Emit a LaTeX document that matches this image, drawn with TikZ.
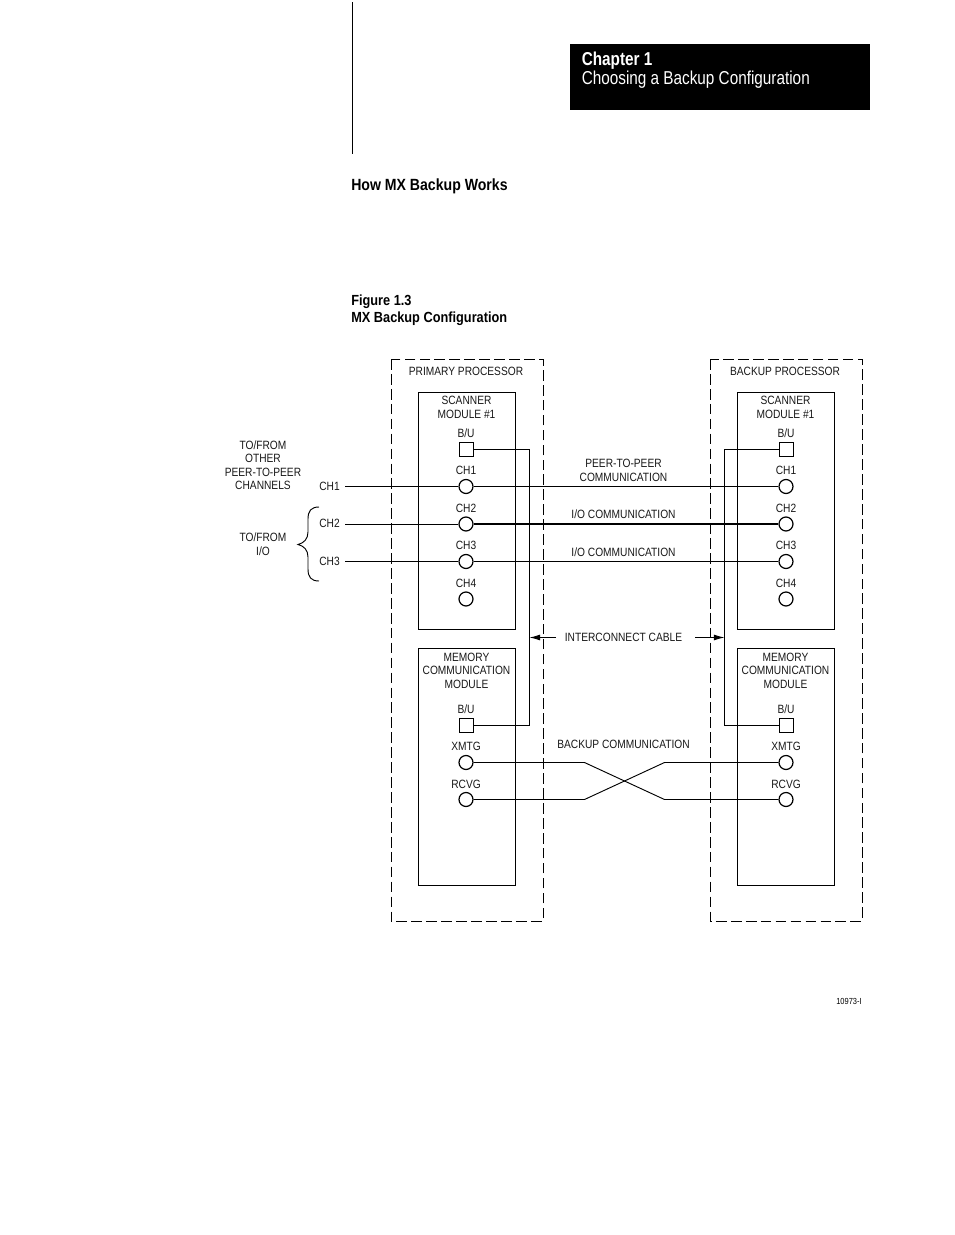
\documentclass[tikz,border=0pt]{standalone}
\usepackage{fontspec}
\setmainfont{Liberation Sans}
\newfontfamily\cond[FakeStretch=0.85]{Liberation Sans}
\newfontfamily\condt[FakeStretch=0.82]{Liberation Sans}
\newfontfamily\condh[FakeStretch=0.87]{Liberation Sans}
\usetikzlibrary{arrows.meta}
\tikzset{
  lbl/.style={inner sep=0pt,align=center,font=\cond\fontsize{9}{10.1}\selectfont,text=black!90},
  head/.style={inner sep=0pt,anchor=base west,font=\condh\bfseries\fontsize{11.2}{12.6}\selectfont},
  port/.style={circle,draw,fill=white,line width=.9pt,minimum size=10.5pt,inner sep=0pt},
  sq/.style={rectangle,draw,fill=white,line width=.7pt,minimum size=10.5pt,inner sep=0pt},
  module/.style={draw,line width=.7pt},
  proc/.style={draw,line width=.6pt,dash pattern=on 8pt off 3.2pt},
  wire/.style={line width=.7pt},
  arrowl/.style={line width=.7pt,-{Latex[length=8pt,width=4.5pt]}}
}
\begin{document}
\begin{tikzpicture}[x=.75pt,y=-.75pt]
\useasboundingbox[fill=white] (0,0) rectangle (954,1235);
% page furniture
\draw[line width=.7pt] (352,2) coordinate (rs) -- (352,154) coordinate (re);
\fill[black] (570,44) rectangle (870,110);
\node[inner sep=0pt,anchor=base west,text=white,font=\condt\bfseries\fontsize{14}{16}\selectfont] (chap) at (581.5,65.5) {Chapter 1};
\node[inner sep=0pt,anchor=base west,text=white,font=\condt\fontsize{14}{16}\selectfont] (chapt) at (581.5,84) {Choosing a Backup Configuration};
\node[head,font=\condh\bfseries\fontsize{12.15}{13}\selectfont] (sec) at (351,190) {How MX Backup Works};
\node[head,font=\condh\bfseries\fontsize{11}{12}\selectfont] (fig1) at (351,305.5) {Figure 1.3};
\node[head,font=\condh\bfseries\fontsize{11}{12}\selectfont] (fig2) at (351,322.5) {MX Backup Configuration};
% processors
\draw[proc] (391,359) rectangle (543,921);
\draw[proc] (710.5,359) rectangle (862,921);
\node[lbl] (pp) at (466,371.5) {PRIMARY PROCESSOR};
\node[lbl] (bp) at (785,371.5) {BACKUP PROCESSOR};
% modules
\draw[module] (418.5,392.5) rectangle (515.5,629.5);
\draw[module] (418.5,648.5) rectangle (515.5,885.5);
\draw[module] (737,392.5) rectangle (834.5,629.5);
\draw[module] (737,648.5) rectangle (834.5,885.5);
\node[lbl] (ls) at (466.5,407.5) {SCANNER\\MODULE \#1};
\node[lbl] (rs2) at (785.5,407.5) {SCANNER\\MODULE \#1};
\node[lbl] (lm) at (466.5,670.5) {MEMORY\\COMMUNICATION\\MODULE};
\node[lbl] (rm) at (785.5,670.5) {MEMORY\\COMMUNICATION\\MODULE};
% ports
\foreach \s/\x in {l/466,r/786}{
  \node[sq]   (\s bu)  at (\x,449.5) {};
  \node[port] (\s c1)  at (\x,486.5) {};
  \node[port] (\s c2)  at (\x,524) {};
  \node[port] (\s c3)  at (\x,561.5) {};
  \node[port] (\s c4)  at (\x,599) {};
  \node[sq]   (\s mbu) at (\x,725.5) {};
  \node[port] (\s x)   at (\x,762.5) {};
  \node[port] (\s r)   at (\x,799.5) {};
  \node[lbl] at (\x,433) {B/U};
  \node[lbl] at (\x,470.5) {CH1};
  \node[lbl] at (\x,508) {CH2};
  \node[lbl] at (\x,545.5) {CH3};
  \node[lbl] at (\x,583) {CH4};
  \node[lbl] at (\x,709) {B/U};
  \node[lbl] at (\x,746.5) {XMTG};
  \node[lbl] at (\x,784) {RCVG};
}
% incoming
\coordinate (i1) at (345,486.5);
\coordinate (i2) at (345,524);
\coordinate (i3) at (345,561.5);
\draw[wire] (i1) -- (lc1);
\draw[wire] (i2) -- (lc2);
\draw[wire] (i3) -- (lc3);
\draw[wire] (lc1) -- (rc1);
\draw[line width=1.2pt] (lc2) -- (rc2);
\draw[wire] (lc3) -- (rc3);
\node[lbl] (o1) at (329.5,486) {CH1};
\node[lbl] (o2) at (329.5,523) {CH2};
\node[lbl] (o3) at (329.5,561) {CH3};
\node[lbl] (tf1) at (263,465) {TO/FROM\\OTHER\\PEER-TO-PEER\\CHANNELS};
\node[lbl] (tf2) at (263,544) {TO/FROM\\I/O};
\draw[wire] (319,507) .. controls (311,507) and (308,511) .. (308,519) -- (308,532) .. controls (308,539) and (304,543) .. (298,544.5) .. controls (304,546) and (308,550) .. (308,557) -- (308,569) .. controls (308,577) and (311,581) .. (319,581);
% backup links
\draw[wire] (lbu.east) -- (529,449.5) -- (529,725.5) -- (lmbu.east);
\draw[wire] (rbu.west) -- (724.5,449.5) -- (724.5,725.5) -- (rmbu.west);
\draw[wire] (lx) -- (584.5,762.5) -- (664.5,799.5) -- (rr);
\draw[wire] (lr) -- (584.5,799.5) -- (664.5,762.5) -- (rx);
% interconnect
\node[lbl] (ic) at (623.5,637.5) {INTERCONNECT CABLE};
\coordinate (ial) at (529.5,637.5);
\coordinate (iar) at (724.5,637.5);
\draw[arrowl] (556,637.5) -- (ial);
\draw[arrowl] (695,637.5) -- (iar);
\node[lbl] (p2p) at (623.5,470.5) {PEER-TO-PEER\\COMMUNICATION};
\node[lbl] (io1) at (623.5,514.5) {I/O COMMUNICATION};
\node[lbl] (io2) at (623.5,552.5) {I/O COMMUNICATION};
\node[lbl] (bc) at (623.5,744.5) {BACKUP COMMUNICATION};
\node[inner sep=0pt,font=\cond\fontsize{6.6}{8}\selectfont] (num) at (849,1001) {10973-I};
\end{tikzpicture}
\end{document}
